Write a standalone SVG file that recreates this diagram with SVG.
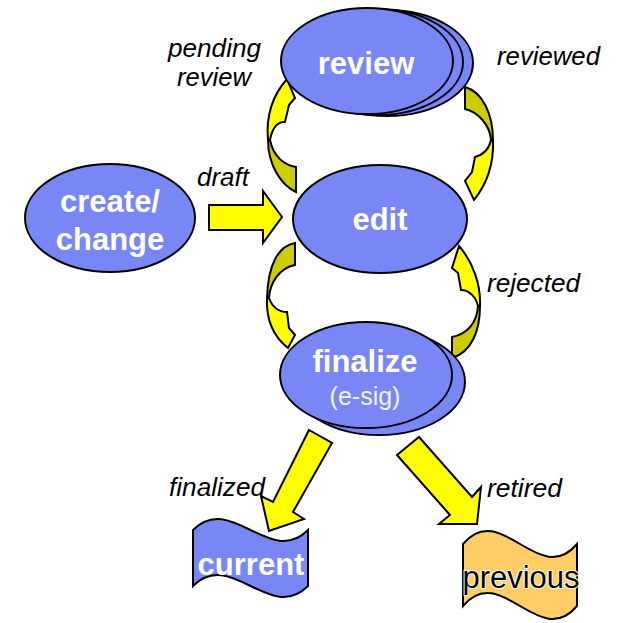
<svg xmlns="http://www.w3.org/2000/svg" width="620" height="623" viewBox="0 0 620 623">
<style>
.node{fill:#7886F6;stroke:#000;stroke-width:2}
.nt{font-family:"Liberation Sans",Arial,sans-serif;font-weight:bold;font-size:31px;fill:#fff;text-anchor:middle}
.lbl{font-family:"Liberation Sans",Arial,sans-serif;font-style:italic;font-size:25px;fill:#000}
.ya{fill:#FFFF00;stroke:#000;stroke-width:2;stroke-linejoin:miter}
.da{fill:#CCCC00;stroke:#000;stroke-width:2;stroke-linejoin:miter}
</style>
<rect width="620" height="623" fill="#fff"/>
<g id="connectors">
  <!-- draft -->
  <path class="ya" d="M209,205 L263,205 L263,191 L282,217 L263,243 L263,230 L209,230 Z"/>
  <!-- pending review (edit -> review) -->
  <path class="da" d="M296,167 L296,192 C281,185 268,165 268,140 L270,140 C273,155 283,165 296,167 Z"/>
  <path class="ya" d="M268,140 C266,118 272,96 287,79 L295,98 L289,105 L285,122 C278,121 272,128 270,140 Z"/>
  <!-- reviewed (review -> edit) -->
  <path class="da" d="M465,87 C483,92 493,115 493,140 L491,140 C490,125 478,112 465,109 Z"/>
  <path class="ya" d="M493,140 C494,165 486,185 474,200 L465,181 L472,172 L475,157 C482,155 489,150 491,140 Z"/>
  <!-- edit -> finalize -->
  <path class="da" d="M295,243 C278,246 268,265 267,298 L269,298 C270,282 280,268 295,265 Z"/>
  <path class="ya" d="M267,298 C266,320 274,337 288,348 L295,335 L289,328 L287,312 C278,312 272,306 269,298 Z"/>
  <!-- rejected (finalize -> edit) -->
  <path class="da" d="M452,358 C472,352 480,330 480,306 L478,306 C477,322 468,334 452,337 Z"/>
  <path class="ya" d="M480,306 C481,285 473,262 459,246 L452,268 L458,273 L461,290 C469,290 476,297 478,306 Z"/>
  <!-- finalized -->
  <path class="ya" d="M309,430 L332,443 L293,512 L304,519 L269,531 L261,496 L273,502 Z"/>
  <!-- retired -->
  <path class="ya" d="M397,455 L419,437 L472,497 L481,487 L477,524 L439,524 L450,515 Z"/>
</g>
<g id="review">
  <ellipse class="node" cx="387" cy="63" rx="86" ry="53"/>
  <ellipse class="node" cx="377" cy="62" rx="86" ry="53"/>
  <ellipse class="node" cx="367" cy="61" rx="86" ry="53"/>
  <text class="nt" x="366" y="74">review</text>
</g>
<g id="create">
  <ellipse class="node" cx="110" cy="218" rx="85" ry="54"/>
  <text class="nt" x="110" y="212">create/</text>
  <text class="nt" x="110" y="250">change</text>
</g>
<g id="edit">
  <ellipse class="node" cx="380" cy="219" rx="87" ry="54"/>
  <text class="nt" x="380" y="230">edit</text>
</g>
<g id="finalize">
  <ellipse class="node" cx="379" cy="382" rx="86" ry="53"/>
  <ellipse class="node" cx="366" cy="375" rx="86" ry="53"/>
  <text class="nt" x="365" y="372">finalize</text>
  <text x="365" y="405" font-family="Liberation Sans, Arial, sans-serif" font-size="25" fill="#f4f4ff" text-anchor="middle">(e-sig)</text>
</g>
<g id="current">
  <path class="node" d="M193,530 C231,492 270,568 308,530 L308,586 C270,624 231,548 193,586 Z"/>
  <text class="nt" x="251" y="575">current</text>
</g>
<g id="previous">
  <path d="M463,544 C501,499 539,589 577,544 L577,606 C539,651 501,561 463,606 Z" fill="#FFCC66" stroke="#000" stroke-width="2"/>
  <text x="521" y="588" font-family="Liberation Sans, Arial, sans-serif" font-size="31" fill="#000" stroke="#fff" stroke-width="2" paint-order="stroke" text-anchor="middle">previous</text>
</g>
<g id="labels">
  <text class="lbl" x="168" y="57" textLength="93" lengthAdjust="spacingAndGlyphs">pending</text>
  <text class="lbl" x="177" y="86" textLength="74" lengthAdjust="spacingAndGlyphs">review</text>
  <text class="lbl" x="497" y="65" textLength="103" lengthAdjust="spacingAndGlyphs">reviewed</text>
  <text class="lbl" x="197" y="186" textLength="52" lengthAdjust="spacingAndGlyphs">draft</text>
  <text class="lbl" x="487" y="292" textLength="93" lengthAdjust="spacingAndGlyphs">rejected</text>
  <text class="lbl" x="169" y="496" textLength="96" lengthAdjust="spacingAndGlyphs">finalized</text>
  <text class="lbl" x="487" y="497" textLength="75" lengthAdjust="spacingAndGlyphs">retired</text>
</g>
</svg>
